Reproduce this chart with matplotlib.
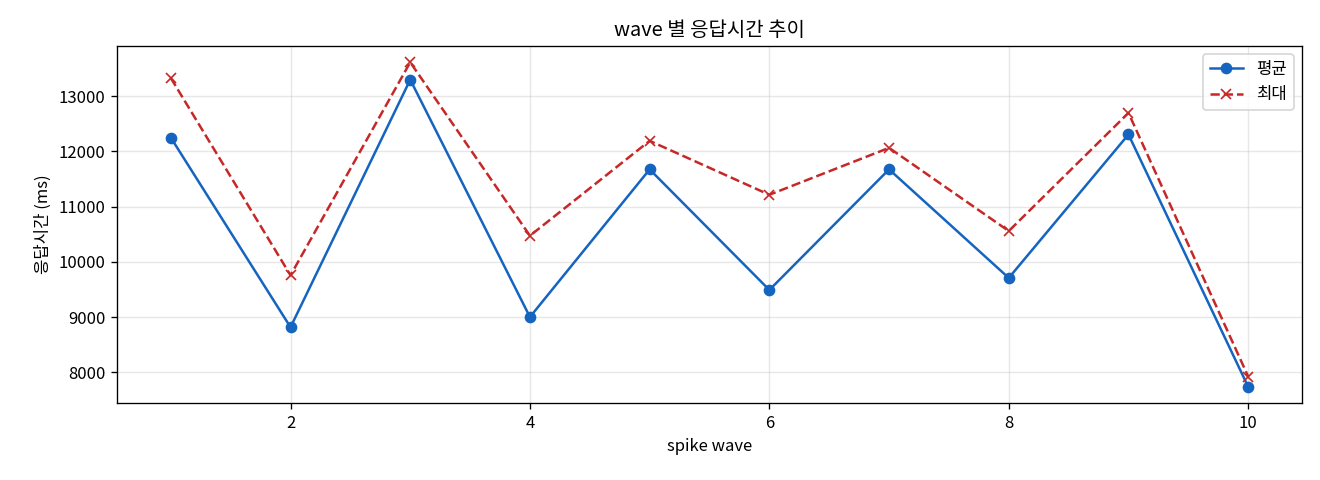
import matplotlib
matplotlib.use("Agg")
import matplotlib.pyplot as plt

plt.rcParams['font.family'] = ['Noto Sans CJK KR', 'DejaVu Sans']
plt.rcParams['axes.unicode_minus'] = False

waves = [1, 2, 3, 4, 5, 6, 7, 8, 9, 10]
avg_ms = [12250, 8815, 13300, 9000, 11675, 9490, 11675, 9708, 12307, 7736]
max_ms = [13330, 9756, 13615, 10473, 12192, 11215, 12065, 10558, 12698, 7922]

fig, ax = plt.subplots(figsize=(11, 4), dpi=120)
ax.plot(waves, avg_ms, marker='o', linestyle='-', color='#1565C0', label='평균')
ax.plot(waves, max_ms, marker='x', linestyle='--', color='#C62828', label='최대')
ax.set_title('wave 별 응답시간 추이')
ax.set_xlabel('spike wave')
ax.set_ylabel('응답시간 (ms)')
ax.grid(True, alpha=0.3)
ax.legend(loc='upper right')
fig.subplots_adjust(left=0.0886, right=0.9864, top=0.904, bottom=0.1604)
fig.savefig('out.png')
